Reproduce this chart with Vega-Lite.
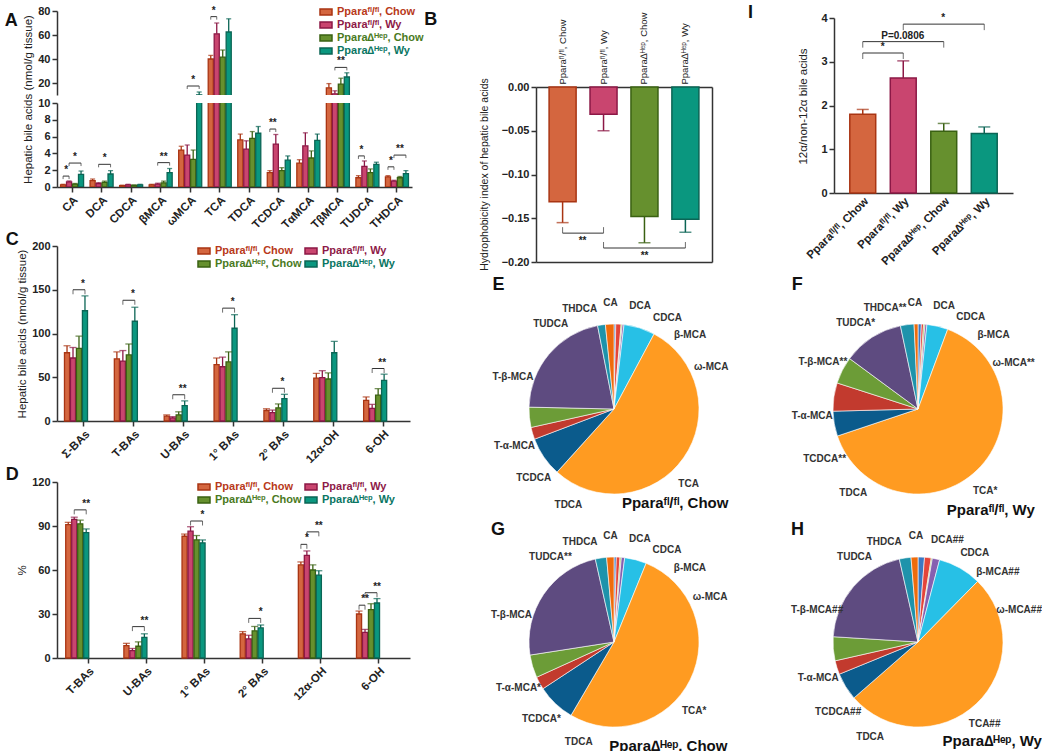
{
"$schema": "https://vega.github.io/schema/vega-lite/v6.json",
"background": "white",
"padding": {"left": 4, "top": 4, "right": 0, "bottom": 0},
"config": {
  "font": "Liberation Sans",
  "view": {"stroke": null},
  "axis": {"domainColor": "#333", "domainWidth": 1.5, "tickColor": "#333", "tickWidth": 1.5, "tickSize": 5, "labelColor": "#222", "labelFontWeight": "bold", "labelFontSize": 11, "titleFontWeight": "normal", "titleFontSize": 11.5, "titleColor": "#222", "grid": false, "labelPadding": 2},
  "title": {"fontSize": 18, "fontWeight": "bold", "anchor": "start", "color": "#111", "frame": "bounds"}
},
"datasets": {
  "A": [
    {"ba": "CA", "k": 1, "g": "a", "m": 0.25, "hi": 0.32, "pl": "CA"},
    {"ba": "CA", "k": 1, "g": "b", "m": 0.6, "hi": 0.72, "pl": "CA"},
    {"ba": "CA", "k": 1, "g": "c", "m": 0.35, "hi": 0.42, "pl": "CA"},
    {"ba": "CA", "k": 1, "g": "d", "m": 1.5, "hi": 1.9, "pl": "CA"},
    {"ba": "DCA", "k": 2, "g": "a", "m": 0.75, "hi": 0.95, "pl": "DCA"},
    {"ba": "DCA", "k": 2, "g": "b", "m": 0.4, "hi": 0.52, "pl": "DCA"},
    {"ba": "DCA", "k": 2, "g": "c", "m": 0.55, "hi": 0.7, "pl": "DCA"},
    {"ba": "DCA", "k": 2, "g": "d", "m": 1.55, "hi": 1.95, "pl": "DCA##"},
    {"ba": "CDCA", "k": 3, "g": "a", "m": 0.15, "hi": 0.22, "pl": "CDCA"},
    {"ba": "CDCA", "k": 3, "g": "b", "m": 0.25, "hi": 0.32, "pl": "CDCA"},
    {"ba": "CDCA", "k": 3, "g": "c", "m": 0.2, "hi": 0.25, "pl": "CDCA"},
    {"ba": "CDCA", "k": 3, "g": "d", "m": 0.25, "hi": 0.32, "pl": "CDCA"},
    {"ba": "βMCA", "k": 4, "g": "a", "m": 0.25, "hi": 0.32, "pl": "β-MCA"},
    {"ba": "βMCA", "k": 4, "g": "b", "m": 0.35, "hi": 0.45, "pl": "β-MCA"},
    {"ba": "βMCA", "k": 4, "g": "c", "m": 0.5, "hi": 0.7, "pl": "β-MCA"},
    {"ba": "βMCA", "k": 4, "g": "d", "m": 1.7, "hi": 2.2, "pl": "β-MCA##"},
    {"ba": "ωMCA", "k": 5, "g": "a", "m": 4.4, "hi": 4.85, "pl": "ω-MCA"},
    {"ba": "ωMCA", "k": 5, "g": "b", "m": 3.8, "hi": 5.0, "pl": "ω-MCA**"},
    {"ba": "ωMCA", "k": 5, "g": "c", "m": 3.3, "hi": 4.4, "pl": "ω-MCA"},
    {"ba": "ωMCA", "k": 5, "g": "d", "m": 10.1, "hi": 12.5, "pl": "ω-MCA##"},
    {"ba": "TCA", "k": 6, "g": "a", "m": 40, "hi": 43, "pl": "TCA"},
    {"ba": "TCA", "k": 6, "g": "b", "m": 61, "hi": 70, "pl": "TCA*"},
    {"ba": "TCA", "k": 6, "g": "c", "m": 41.5, "hi": 47.5, "pl": "TCA*"},
    {"ba": "TCA", "k": 6, "g": "d", "m": 62.5, "hi": 73.5, "pl": "TCA##"},
    {"ba": "TDCA", "k": 7, "g": "a", "m": 5.6, "hi": 6.3, "pl": "TDCA"},
    {"ba": "TDCA", "k": 7, "g": "b", "m": 4.5, "hi": 5.5, "pl": "TDCA"},
    {"ba": "TDCA", "k": 7, "g": "c", "m": 5.8, "hi": 6.6, "pl": "TDCA"},
    {"ba": "TDCA", "k": 7, "g": "d", "m": 6.4, "hi": 7.2, "pl": "TDCA"},
    {"ba": "TCDCA", "k": 8, "g": "a", "m": 1.7, "hi": 1.95, "pl": "TCDCA"},
    {"ba": "TCDCA", "k": 8, "g": "b", "m": 5.1, "hi": 6.25, "pl": "TCDCA**"},
    {"ba": "TCDCA", "k": 8, "g": "c", "m": 1.95, "hi": 2.3, "pl": "TCDCA*"},
    {"ba": "TCDCA", "k": 8, "g": "d", "m": 3.2, "hi": 3.7, "pl": "TCDCA##"},
    {"ba": "TαMCA", "k": 9, "g": "a", "m": 2.85, "hi": 3.25, "pl": "T-α-MCA"},
    {"ba": "TαMCA", "k": 9, "g": "b", "m": 4.9, "hi": 6.45, "pl": "T-α-MCA"},
    {"ba": "TαMCA", "k": 9, "g": "c", "m": 3.45, "hi": 4.3, "pl": "T-α-MCA*"},
    {"ba": "TαMCA", "k": 9, "g": "d", "m": 5.55, "hi": 6.3, "pl": "T-α-MCA"},
    {"ba": "TβMCA", "k": 10, "g": "a", "m": 16, "hi": 19.5, "pl": "T-β-MCA"},
    {"ba": "TβMCA", "k": 10, "g": "b", "m": 11, "hi": 13.5, "pl": "T-β-MCA**"},
    {"ba": "TβMCA", "k": 10, "g": "c", "m": 19, "hi": 24, "pl": "T-β-MCA"},
    {"ba": "TβMCA", "k": 10, "g": "d", "m": 25, "hi": 28.5, "pl": "T-β-MCA##"},
    {"ba": "TUDCA", "k": 11, "g": "a", "m": 1.1, "hi": 1.35, "pl": "TUDCA"},
    {"ba": "TUDCA", "k": 11, "g": "b", "m": 2.45, "hi": 3.1, "pl": "TUDCA*"},
    {"ba": "TUDCA", "k": 11, "g": "c", "m": 1.7, "hi": 2.15, "pl": "TUDCA**"},
    {"ba": "TUDCA", "k": 11, "g": "d", "m": 2.7, "hi": 2.95, "pl": "TUDCA"},
    {"ba": "THDCA", "k": 12, "g": "a", "m": 1.2, "hi": 1.35, "pl": "THDCA"},
    {"ba": "THDCA", "k": 12, "g": "b", "m": 0.7, "hi": 0.8, "pl": "THDCA**"},
    {"ba": "THDCA", "k": 12, "g": "c", "m": 1.1, "hi": 1.25, "pl": "THDCA"},
    {"ba": "THDCA", "k": 12, "g": "d", "m": 1.6, "hi": 1.95, "pl": "THDCA"}
  ],
  "Ab": [
    {"ba": "CA", "g1": "a", "g2": "b", "y": 1.3, "s": "*"},
    {"ba": "CA", "g1": "b", "g2": "d", "y": 2.85, "s": "*"},
    {"ba": "DCA", "g1": "b", "g2": "d", "y": 2.7, "s": "*"},
    {"ba": "βMCA", "g1": "b", "g2": "d", "y": 2.9, "s": "**"},
    {"ba": "ωMCA", "g1": "b", "g2": "d", "y": 17.5, "s": "*"},
    {"ba": "TCA", "g1": "a", "g2": "b", "y": 75.3, "s": "*"},
    {"ba": "TCDCA", "g1": "a", "g2": "b", "y": 6.9, "s": "**"},
    {"ba": "TβMCA", "g1": "b", "g2": "d", "y": 33, "s": "**"},
    {"ba": "TUDCA", "g1": "a", "g2": "b", "y": 3.7, "s": "*"},
    {"ba": "THDCA", "g1": "a", "g2": "b", "y": 2.4, "s": "*"},
    {"ba": "THDCA", "g1": "b", "g2": "d", "y": 3.8, "s": "**"}
  ],
  "C": [
    {"cat": "Σ-BAs", "g": "a", "m": 78, "hi": 86}, {"cat": "Σ-BAs", "g": "b", "m": 72, "hi": 84}, {"cat": "Σ-BAs", "g": "c", "m": 83, "hi": 97}, {"cat": "Σ-BAs", "g": "d", "m": 126, "hi": 143},
    {"cat": "T-BAs", "g": "a", "m": 71, "hi": 79}, {"cat": "T-BAs", "g": "b", "m": 68.5, "hi": 80.5}, {"cat": "T-BAs", "g": "c", "m": 75.5, "hi": 88}, {"cat": "T-BAs", "g": "d", "m": 114, "hi": 130},
    {"cat": "U-BAs", "g": "a", "m": 5.5, "hi": 7}, {"cat": "U-BAs", "g": "b", "m": 3.5, "hi": 5}, {"cat": "U-BAs", "g": "c", "m": 7, "hi": 10.5}, {"cat": "U-BAs", "g": "d", "m": 17.5, "hi": 23},
    {"cat": "1° BAs", "g": "a", "m": 64.5, "hi": 72}, {"cat": "1° BAs", "g": "b", "m": 62, "hi": 73}, {"cat": "1° BAs", "g": "c", "m": 67.5, "hi": 79}, {"cat": "1° BAs", "g": "d", "m": 106, "hi": 121.5},
    {"cat": "2° BAs", "g": "a", "m": 12, "hi": 14}, {"cat": "2° BAs", "g": "b", "m": 9.5, "hi": 12.5}, {"cat": "2° BAs", "g": "c", "m": 15, "hi": 19.5}, {"cat": "2° BAs", "g": "d", "m": 25.5, "hi": 30.5},
    {"cat": "12α-OH", "g": "a", "m": 49, "hi": 54.5}, {"cat": "12α-OH", "g": "b", "m": 49.5, "hi": 57.5}, {"cat": "12α-OH", "g": "c", "m": 48, "hi": 55}, {"cat": "12α-OH", "g": "d", "m": 78, "hi": 91},
    {"cat": "6-OH", "g": "a", "m": 23.5, "hi": 27.5}, {"cat": "6-OH", "g": "b", "m": 14.5, "hi": 19}, {"cat": "6-OH", "g": "c", "m": 29.5, "hi": 37}, {"cat": "6-OH", "g": "d", "m": 46.5, "hi": 53.5}
  ],
  "Cb": [
    {"cat": "Σ-BAs", "g1": "b", "g2": "d", "y": 150, "s": "*"},
    {"cat": "T-BAs", "g1": "b", "g2": "d", "y": 138, "s": "*"},
    {"cat": "U-BAs", "g1": "b", "g2": "d", "y": 30, "s": "**"},
    {"cat": "1° BAs", "g1": "b", "g2": "d", "y": 129, "s": "*"},
    {"cat": "2° BAs", "g1": "b", "g2": "d", "y": 37.4, "s": "*"},
    {"cat": "6-OH", "g1": "b", "g2": "d", "y": 60, "s": "**"}
  ],
  "D": [
    {"cat": "T-BAs", "g": "a", "m": 91, "hi": 92.5}, {"cat": "T-BAs", "g": "b", "m": 94.5, "hi": 96}, {"cat": "T-BAs", "g": "c", "m": 91.5, "hi": 94}, {"cat": "T-BAs", "g": "d", "m": 85.5, "hi": 88},
    {"cat": "U-BAs", "g": "a", "m": 8.5, "hi": 10}, {"cat": "U-BAs", "g": "b", "m": 5, "hi": 6.5}, {"cat": "U-BAs", "g": "c", "m": 8, "hi": 11}, {"cat": "U-BAs", "g": "d", "m": 14, "hi": 16.5},
    {"cat": "1° BAs", "g": "a", "m": 83, "hi": 84.5}, {"cat": "1° BAs", "g": "b", "m": 86.5, "hi": 89.5}, {"cat": "1° BAs", "g": "c", "m": 80.5, "hi": 83.5}, {"cat": "1° BAs", "g": "d", "m": 78.5, "hi": 80.5},
    {"cat": "2° BAs", "g": "a", "m": 16.5, "hi": 18}, {"cat": "2° BAs", "g": "b", "m": 13, "hi": 15.5}, {"cat": "2° BAs", "g": "c", "m": 18.5, "hi": 21.5}, {"cat": "2° BAs", "g": "d", "m": 20.5, "hi": 22.5},
    {"cat": "12α-OH", "g": "a", "m": 63.5, "hi": 65.5}, {"cat": "12α-OH", "g": "b", "m": 70, "hi": 73}, {"cat": "12α-OH", "g": "c", "m": 60, "hi": 63.5}, {"cat": "12α-OH", "g": "d", "m": 56.5, "hi": 59.5},
    {"cat": "6-OH", "g": "a", "m": 30, "hi": 32}, {"cat": "6-OH", "g": "b", "m": 17.5, "hi": 19.5}, {"cat": "6-OH", "g": "c", "m": 33, "hi": 37}, {"cat": "6-OH", "g": "d", "m": 37.5, "hi": 40.5}
  ],
  "Db": [
    {"cat": "T-BAs", "g1": "b", "g2": "d", "y": 101, "s": "**"},
    {"cat": "U-BAs", "g1": "b", "g2": "d", "y": 21.4, "s": "**"},
    {"cat": "1° BAs", "g1": "b", "g2": "d", "y": 93.4, "s": "*"},
    {"cat": "2° BAs", "g1": "b", "g2": "d", "y": 27, "s": "*"},
    {"cat": "12α-OH", "g1": "a", "g2": "b", "y": 77.5, "s": "*"},
    {"cat": "12α-OH", "g1": "b", "g2": "d", "y": 86, "s": "**"},
    {"cat": "6-OH", "g1": "a", "g2": "b", "y": 36, "s": "**"},
    {"cat": "6-OH", "g1": "b", "g2": "d", "y": 44.5, "s": "**"}
  ],
  "B": [
    {"g": "a", "m": -0.131, "lo": -0.155},
    {"g": "b", "m": -0.031, "lo": -0.05},
    {"g": "c", "m": -0.148, "lo": -0.178},
    {"g": "d", "m": -0.151, "lo": -0.166}
  ],
  "Bb": [
    {"g1": "a", "g2": "b", "y": -0.167, "s": "**"},
    {"g1": "b", "g2": "d", "y": -0.184, "s": "**"}
  ],
  "I": [
    {"g": "a", "m": 1.8, "hi": 1.91},
    {"g": "b", "m": 2.63, "hi": 3.02},
    {"g": "c", "m": 1.41, "hi": 1.59},
    {"g": "d", "m": 1.36, "hi": 1.51}
  ],
  "Ib": [
    {"g1": "a", "g2": "b", "y": 3.2, "s": "*"},
    {"g1": "a", "g2": "c", "y": 3.46, "s": "P=0.0806"},
    {"g1": "b", "g2": "d", "y": 3.86, "s": "*"}
  ]
},
"resolve": {"scale": {"x": "independent", "y": "independent", "fill": "independent", "stroke": "independent", "color": "independent"}, "legend": {"fill": "independent", "stroke": "independent", "color": "independent"}},
"spacing": 0,
"hconcat": [
  {
    "spacing": 0,
    "resolve": {"scale": {"x": "independent", "y": "independent", "fill": "independent", "stroke": "independent", "color": "independent"}, "legend": {"fill": "independent", "stroke": "independent", "color": "independent"}},
    "vconcat": [
      {
        "title": {"text": "A", "dy": 29, "dx": -18},
        "bounds": "flush",
        "spacing": 8,
        "resolve": {"scale": {"x": "independent", "y": "independent", "fill": "independent", "stroke": "independent", "color": "independent"}, "legend": {"fill": "independent", "stroke": "independent", "color": "independent"}},
        "vconcat": [
          {
            "width": 355, "height": 84,
            "encoding": {
              "x": {"field": "ba", "type": "nominal", "sort": ["CA","DCA","CDCA","βMCA","ωMCA","TCA","TDCA","TCDCA","TαMCA","TβMCA","TUDCA","THDCA"], "scale": {"paddingInner": 0.22, "paddingOuter": 0.12}, "axis": null},
              "xOffset": {"field": "g", "type": "nominal", "scale": {"paddingInner": 0.15}},
              "y": {"field": "m", "type": "quantitative", "scale": {"domain": [10, 80], "nice": false, "zero": false}, "axis": {"values": [20, 40, 60, 80], "title": null}}
            },
            "layer": [
              {"data": {"name": "A"}, "mark": {"type": "bar", "clip": true, "strokeWidth": 1.3},
               "encoding": {"stroke": {"field": "g", "type": "nominal", "scale": {"domain": ["a","b","c","d"], "range": ["#A93513","#8C1846","#3A6112","#0B6555"]}, "legend": null},
                 "fill": {"field": "g", "type": "nominal", "scale": {"domain": ["a","b","c","d"], "range": ["#D4663F","#C9456F","#66902E","#0A977F"]},
                 "legend": {"orient": "none", "legendX": 262, "legendY": -6, "title": null, "symbolType": "M-1,-0.5H1V0.5H-1Z", "symbolSize": 144, "symbolStrokeWidth": 1.5, "labelFontSize": 11, "labelFontWeight": "bold", "rowPadding": -2,
                   "labelExpr": "{'a':'Pparaᶠˡ/ᶠˡ, Chow','b':'Pparaᶠˡ/ᶠˡ, Wy','c':'Ppara∆ᴴᵉᵖ, Chow','d':'Ppara∆ᴴᵉᵖ, Wy'}[datum.value]",
                   "encode": {"labels": {"update": {"fill": {"signal": "{'a':'#B8391A','b':'#8E1A48','c':'#4A7A1E','d':'#0B7663'}[datum.value]"}}}, "symbols": {"update": {"stroke": {"signal": "{'a':'#A93513','b':'#8C1846','c':'#3A6112','d':'#0B6555'}[datum.value]"}}}}}}}},
              {"data": {"name": "A"}, "mark": {"type": "rule", "clip": true, "strokeWidth": 1.3}, "encoding": {"y2": {"field": "hi"}, "stroke": {"field": "g", "type": "nominal", "scale": {"domain": ["a","b","c","d"], "range": ["#A93513","#8C1846","#3A6112","#0B6555"]}, "legend": null}}},
              {"data": {"name": "A"}, "mark": {"type": "tick", "clip": true, "thickness": 1.3, "size": 5},
               "encoding": {"y": {"field": "hi", "type": "quantitative"}, "color": {"field": "g", "type": "nominal", "scale": {"domain": ["a","b","c","d"], "range": ["#A93513","#8C1846","#3A6112","#0B6555"]}, "legend": null}}},
              {"data": {"name": "Ab"}, "transform": [{"filter": "datum.y >= 10"}, {"fold": ["g1", "g2"], "as": ["end", "gg"]}], "mark": {"type": "line", "strokeWidth": 1, "color": "#333"},
               "encoding": {"xOffset": {"field": "gg", "type": "nominal"}, "y": {"field": "y", "type": "quantitative"}, "detail": [{"field": "ba"}, {"field": "g1"}, {"field": "g2"}]}},
              {"data": {"name": "Ab"}, "transform": [{"filter": "datum.y >= 10"}, {"fold": ["g1", "g2"], "as": ["end", "gg"]}], "mark": {"type": "point", "shape": "M0,0L0,1", "size": 36, "filled": false, "strokeWidth": 1, "color": "#333"},
               "encoding": {"xOffset": {"field": "gg", "type": "nominal"}, "y": {"field": "y", "type": "quantitative"}}},
              {"data": {"name": "Ab"}, "transform": [{"filter": "datum.y >= 10"}, {"filter": "!((datum.g1=='a'&&datum.g2=='c')||(datum.g1=='b'&&datum.g2=='d'))"}], "mark": {"type": "text", "dx": 3, "dy": -1, "baseline": "bottom", "fontSize": 10, "fontWeight": "bold", "color": "#222"},
               "encoding": {"xOffset": {"field": "g1", "type": "nominal"}, "y": {"field": "y", "type": "quantitative"}, "text": {"field": "s"}}},
              {"data": {"name": "Ab"}, "transform": [{"filter": "datum.y >= 10"}, {"filter": "(datum.g1=='a'&&datum.g2=='c')||(datum.g1=='b'&&datum.g2=='d')"}], "mark": {"type": "text", "dx": 6, "dy": -1, "baseline": "bottom", "fontSize": 10, "fontWeight": "bold", "color": "#222"},
               "encoding": {"xOffset": {"field": "g1", "type": "nominal"}, "y": {"field": "y", "type": "quantitative"}, "text": {"field": "s"}}}
            ]
          },
          {
            "width": 355, "height": 84,
            "encoding": {
              "x": {"field": "ba", "type": "nominal", "sort": ["CA","DCA","CDCA","βMCA","ωMCA","TCA","TDCA","TCDCA","TαMCA","TβMCA","TUDCA","THDCA"], "scale": {"paddingInner": 0.22, "paddingOuter": 0.12}, "axis": {"title": null, "labelAngle": -45, "labelFontSize": 11.5}},
              "xOffset": {"field": "g", "type": "nominal", "scale": {"paddingInner": 0.15}},
              "y": {"field": "m", "type": "quantitative", "scale": {"domain": [0, 10], "nice": false}, "axis": {"values": [0, 2, 4, 6, 8, 10], "title": "Hepatic bile acids (nmol/g tissue)", "titleY": -4}}
            },
            "layer": [
              {"data": {"name": "A"}, "mark": {"type": "bar", "clip": true, "strokeWidth": 1.3},
               "encoding": {"stroke": {"field": "g", "type": "nominal", "scale": {"domain": ["a","b","c","d"], "range": ["#A93513","#8C1846","#3A6112","#0B6555"]}, "legend": null}, "fill": {"field": "g", "type": "nominal", "scale": {"domain": ["a","b","c","d"], "range": ["#D4663F","#C9456F","#66902E","#0A977F"]}, "legend": null}}},
              {"data": {"name": "A"}, "mark": {"type": "rule", "clip": true, "strokeWidth": 1.3}, "encoding": {"y2": {"field": "hi"}, "stroke": {"field": "g", "type": "nominal", "scale": {"domain": ["a","b","c","d"], "range": ["#A93513","#8C1846","#3A6112","#0B6555"]}, "legend": null}}},
              {"data": {"name": "A"}, "mark": {"type": "tick", "clip": true, "thickness": 1.3, "size": 5},
               "encoding": {"y": {"field": "hi", "type": "quantitative"}, "color": {"field": "g", "type": "nominal", "scale": {"domain": ["a","b","c","d"], "range": ["#A93513","#8C1846","#3A6112","#0B6555"]}, "legend": null}}},
              {"data": {"name": "Ab"}, "transform": [{"filter": "datum.y < 10"}, {"fold": ["g1", "g2"], "as": ["end", "gg"]}], "mark": {"type": "line", "strokeWidth": 1, "color": "#333"},
               "encoding": {"xOffset": {"field": "gg", "type": "nominal"}, "y": {"field": "y", "type": "quantitative"}, "detail": [{"field": "ba"}, {"field": "g1"}, {"field": "g2"}]}},
              {"data": {"name": "Ab"}, "transform": [{"filter": "datum.y < 10"}, {"fold": ["g1", "g2"], "as": ["end", "gg"]}], "mark": {"type": "point", "shape": "M0,0L0,1", "size": 36, "filled": false, "strokeWidth": 1, "color": "#333"},
               "encoding": {"xOffset": {"field": "gg", "type": "nominal"}, "y": {"field": "y", "type": "quantitative"}}},
              {"data": {"name": "Ab"}, "transform": [{"filter": "datum.y < 10"}, {"filter": "!((datum.g1=='a'&&datum.g2=='c')||(datum.g1=='b'&&datum.g2=='d'))"}], "mark": {"type": "text", "dx": 3, "dy": -1, "baseline": "bottom", "fontSize": 10, "fontWeight": "bold", "color": "#222"},
               "encoding": {"xOffset": {"field": "g1", "type": "nominal"}, "y": {"field": "y", "type": "quantitative"}, "text": {"field": "s"}}},
              {"data": {"name": "Ab"}, "transform": [{"filter": "datum.y < 10"}, {"filter": "(datum.g1=='a'&&datum.g2=='c')||(datum.g1=='b'&&datum.g2=='d')"}], "mark": {"type": "text", "dx": 6, "dy": -1, "baseline": "bottom", "fontSize": 10, "fontWeight": "bold", "color": "#222"},
               "encoding": {"xOffset": {"field": "g1", "type": "nominal"}, "y": {"field": "y", "type": "quantitative"}, "text": {"field": "s"}}}
            ]
          }
        ]
      },
      {
        "title": {"text": "C", "dx": -11, "dy": 13},
        "width": 353, "height": 175,
        "encoding": {
          "x": {"field": "cat", "type": "nominal", "sort": ["Σ-BAs","T-BAs","U-BAs","1° BAs","2° BAs","12α-OH","6-OH"], "scale": {"paddingInner": 0.22, "paddingOuter": 0.15}, "axis": {"title": null, "labelAngle": -45, "labelFontSize": 11.5}},
          "xOffset": {"field": "g", "type": "nominal", "scale": {"paddingInner": 0.2}},
          "y": {"field": "m", "type": "quantitative", "scale": {"domain": [0, 200], "nice": false}, "axis": {"values": [0, 50, 100, 150, 200], "title": "Hepatic bile acids (nmol/g tissue)"}}
        },
        "layer": [
          {"data": {"name": "C"}, "mark": {"type": "bar", "strokeWidth": 1.3},
           "encoding": {"stroke": {"field": "g", "type": "nominal", "scale": {"domain": ["a","b","c","d"], "range": ["#A93513","#8C1846","#3A6112","#0B6555"]}, "legend": null},
             "fill": {"field": "g", "type": "nominal", "scale": {"domain": ["a","b","c","d"], "range": ["#D4663F","#C9456F","#66902E","#0A977F"]},
             "legend": {"orient": "none", "legendX": 140, "legendY": -2, "columns": 2, "columnPadding": 0, "values": ["a","c","b","d"], "title": null, "symbolType": "M-1,-0.5H1V0.5H-1Z", "symbolSize": 144, "symbolStrokeWidth": 1.5, "labelFontSize": 11, "labelFontWeight": "bold", "rowPadding": -1,
               "labelExpr": "{'a':'Pparaᶠˡ/ᶠˡ, Chow','b':'Pparaᶠˡ/ᶠˡ, Wy','c':'Ppara∆ᴴᵉᵖ, Chow','d':'Ppara∆ᴴᵉᵖ, Wy'}[datum.value]",
               "encode": {"labels": {"update": {"fill": {"signal": "{'a':'#B8391A','b':'#8E1A48','c':'#4A7A1E','d':'#0B7663'}[datum.value]"}}}, "symbols": {"update": {"stroke": {"signal": "{'a':'#A93513','b':'#8C1846','c':'#3A6112','d':'#0B6555'}[datum.value]"}}}}}}}},
          {"data": {"name": "C"}, "mark": {"type": "rule", "strokeWidth": 1.3}, "encoding": {"y2": {"field": "hi"}, "stroke": {"field": "g", "type": "nominal", "scale": {"domain": ["a","b","c","d"], "range": ["#A93513","#8C1846","#3A6112","#0B6555"]}, "legend": null}}},
          {"data": {"name": "C"}, "mark": {"type": "tick", "thickness": 1.3, "size": 7},
           "encoding": {"y": {"field": "hi", "type": "quantitative"}, "color": {"field": "g", "type": "nominal", "scale": {"domain": ["a","b","c","d"], "range": ["#A93513","#8C1846","#3A6112","#0B6555"]}, "legend": null}}},
          {"data": {"name": "Cb"}, "transform": [{"fold": ["g1", "g2"], "as": ["end", "gg"]}], "mark": {"type": "line", "strokeWidth": 1, "color": "#333"},
           "encoding": {"xOffset": {"field": "gg", "type": "nominal"}, "y": {"field": "y", "type": "quantitative"}, "detail": [{"field": "cat"}, {"field": "g1"}, {"field": "g2"}]}},
          {"data": {"name": "Cb"}, "transform": [{"fold": ["g1", "g2"], "as": ["end", "gg"]}], "mark": {"type": "point", "shape": "M0,0L0,1", "size": 81, "filled": false, "strokeWidth": 1, "color": "#333"},
           "encoding": {"xOffset": {"field": "gg", "type": "nominal"}, "y": {"field": "y", "type": "quantitative"}}},
          {"data": {"name": "Cb"}, "transform": [{"filter": "!((datum.g1=='a'&&datum.g2=='c')||(datum.g1=='b'&&datum.g2=='d'))"}], "mark": {"type": "text", "dx": 5, "dy": -1, "baseline": "bottom", "fontSize": 10, "fontWeight": "bold", "color": "#222"},
           "encoding": {"xOffset": {"field": "g1", "type": "nominal"}, "y": {"field": "y", "type": "quantitative"}, "text": {"field": "s"}}},
          {"data": {"name": "Cb"}, "transform": [{"filter": "(datum.g1=='a'&&datum.g2=='c')||(datum.g1=='b'&&datum.g2=='d')"}], "mark": {"type": "text", "dx": 10, "dy": -1, "baseline": "bottom", "fontSize": 10, "fontWeight": "bold", "color": "#222"},
           "encoding": {"xOffset": {"field": "g1", "type": "nominal"}, "y": {"field": "y", "type": "quantitative"}, "text": {"field": "s"}}}
        ]
      },
      {
        "title": {"text": "D", "dx": -11, "dy": 12},
        "width": 353, "height": 176,
        "encoding": {
          "x": {"field": "cat", "type": "nominal", "sort": ["T-BAs","U-BAs","1° BAs","2° BAs","12α-OH","6-OH"], "scale": {"paddingInner": 0.23, "paddingOuter": 0.15}, "axis": {"title": null, "labelAngle": -45, "labelFontSize": 11.5}},
          "xOffset": {"field": "g", "type": "nominal", "scale": {"paddingInner": 0.2}},
          "y": {"field": "m", "type": "quantitative", "scale": {"domain": [0, 120], "nice": false}, "axis": {"values": [0, 30, 60, 90, 120], "title": "%"}}
        },
        "layer": [
          {"data": {"name": "D"}, "mark": {"type": "bar", "strokeWidth": 1.3},
           "encoding": {"stroke": {"field": "g", "type": "nominal", "scale": {"domain": ["a","b","c","d"], "range": ["#A93513","#8C1846","#3A6112","#0B6555"]}, "legend": null},
             "fill": {"field": "g", "type": "nominal", "scale": {"domain": ["a","b","c","d"], "range": ["#D4663F","#C9456F","#66902E","#0A977F"]},
             "legend": {"orient": "none", "legendX": 140, "legendY": -2, "columns": 2, "columnPadding": 0, "values": ["a","c","b","d"], "title": null, "symbolType": "M-1,-0.5H1V0.5H-1Z", "symbolSize": 144, "symbolStrokeWidth": 1.5, "labelFontSize": 11, "labelFontWeight": "bold", "rowPadding": -1,
               "labelExpr": "{'a':'Pparaᶠˡ/ᶠˡ, Chow','b':'Pparaᶠˡ/ᶠˡ, Wy','c':'Ppara∆ᴴᵉᵖ, Chow','d':'Ppara∆ᴴᵉᵖ, Wy'}[datum.value]",
               "encode": {"labels": {"update": {"fill": {"signal": "{'a':'#B8391A','b':'#8E1A48','c':'#4A7A1E','d':'#0B7663'}[datum.value]"}}}, "symbols": {"update": {"stroke": {"signal": "{'a':'#A93513','b':'#8C1846','c':'#3A6112','d':'#0B6555'}[datum.value]"}}}}}}}},
          {"data": {"name": "D"}, "mark": {"type": "rule", "strokeWidth": 1.3}, "encoding": {"y2": {"field": "hi"}, "stroke": {"field": "g", "type": "nominal", "scale": {"domain": ["a","b","c","d"], "range": ["#A93513","#8C1846","#3A6112","#0B6555"]}, "legend": null}}},
          {"data": {"name": "D"}, "mark": {"type": "tick", "thickness": 1.3, "size": 7},
           "encoding": {"y": {"field": "hi", "type": "quantitative"}, "color": {"field": "g", "type": "nominal", "scale": {"domain": ["a","b","c","d"], "range": ["#A93513","#8C1846","#3A6112","#0B6555"]}, "legend": null}}},
          {"data": {"name": "Db"}, "transform": [{"fold": ["g1", "g2"], "as": ["end", "gg"]}], "mark": {"type": "line", "strokeWidth": 1, "color": "#333"},
           "encoding": {"xOffset": {"field": "gg", "type": "nominal"}, "y": {"field": "y", "type": "quantitative"}, "detail": [{"field": "cat"}, {"field": "g1"}, {"field": "g2"}]}},
          {"data": {"name": "Db"}, "transform": [{"fold": ["g1", "g2"], "as": ["end", "gg"]}], "mark": {"type": "point", "shape": "M0,0L0,1", "size": 81, "filled": false, "strokeWidth": 1, "color": "#333"},
           "encoding": {"xOffset": {"field": "gg", "type": "nominal"}, "y": {"field": "y", "type": "quantitative"}}},
          {"data": {"name": "Db"}, "transform": [{"filter": "!((datum.g1=='a'&&datum.g2=='c')||(datum.g1=='b'&&datum.g2=='d'))"}], "mark": {"type": "text", "dx": 6, "dy": -1, "baseline": "bottom", "fontSize": 10, "fontWeight": "bold", "color": "#222"},
           "encoding": {"xOffset": {"field": "g1", "type": "nominal"}, "y": {"field": "y", "type": "quantitative"}, "text": {"field": "s"}}},
          {"data": {"name": "Db"}, "transform": [{"filter": "(datum.g1=='a'&&datum.g2=='c')||(datum.g1=='b'&&datum.g2=='d')"}], "mark": {"type": "text", "dx": 12, "dy": -1, "baseline": "bottom", "fontSize": 10, "fontWeight": "bold", "color": "#222"},
           "encoding": {"xOffset": {"field": "g1", "type": "nominal"}, "y": {"field": "y", "type": "quantitative"}, "text": {"field": "s"}}}
        ]
      }
    ]
  },
  {
    "spacing": 5,
    "resolve": {"scale": {"x": "independent", "y": "independent", "fill": "independent", "stroke": "independent", "color": "independent", "theta": "independent"}, "legend": {"fill": "independent", "stroke": "independent", "color": "independent"}},
    "vconcat": [
      {
        "spacing": 35,
        "resolve": {"scale": {"x": "independent", "y": "independent", "fill": "independent", "stroke": "independent", "color": "independent"}, "legend": {"fill": "independent", "stroke": "independent", "color": "independent"}},
        "hconcat": [
          {
            "title": {"text": "B", "dx": -55, "dy": 22},
            "width": 176, "height": 251,
            "encoding": {
              "x": {"field": "g", "type": "nominal", "sort": ["a","b","c","d"], "scale": {"paddingInner": 0.34, "paddingOuter": 0.32}, "axis": {"orient": "top", "offset": -76, "labelAngle": -90, "title": null, "ticks": false, "labelFontWeight": "normal", "labelFontSize": 9.5, "labelPadding": 3, "labelExpr": "{'a':'Pparaᶠˡ/ᶠˡ, Chow','b':'Pparaᶠˡ/ᶠˡ, Wy','c':'Ppara∆ᴴᵉᵖ, Chow','d':'Ppara∆ᴴᵉᵖ, Wy'}[datum.value]"}},
              "y": {"field": "m", "type": "quantitative", "scale": {"domain": [-0.2, 0], "nice": false, "range": [251, 76]}, "axis": {"values": [0, -0.05, -0.1, -0.15, -0.2], "format": ".2f", "title": "Hydrophobicity index of hepatic bile acids", "titleY": 163, "titleFontSize": 10.5, "titlePadding": 12}}
            },
            "layer": [
              {"data": {"name": "B"}, "mark": {"type": "bar", "strokeWidth": 1.5},
               "encoding": {"stroke": {"field": "g", "type": "nominal", "scale": {"domain": ["a","b","c","d"], "range": ["#A93513","#8C1846","#3A6112","#0B6555"]}, "legend": null}, "fill": {"field": "g", "type": "nominal", "scale": {"domain": ["a","b","c","d"], "range": ["#D4663F","#C9456F","#66902E","#0A977F"]}, "legend": null}}},
              {"data": {"name": "B"}, "mark": {"type": "rule", "strokeWidth": 1.5},
               "encoding": {"y2": {"field": "lo"}, "stroke": {"field": "g", "type": "nominal", "scale": {"domain": ["a","b","c","d"], "range": ["#A93513","#8C1846","#3A6112","#0B6555"]}, "legend": null},
                 "x": {"field": "g", "type": "nominal", "sort": ["a","b","c","d"], "axis": {"orient": "bottom", "labels": false, "ticks": false, "title": null}},
                 "y": {"field": "m", "type": "quantitative", "axis": {"orient": "right", "labels": false, "ticks": false, "title": null}}}},
              {"data": {"name": "B"}, "mark": {"type": "tick", "thickness": 1.5, "size": 12},
               "encoding": {"y": {"field": "lo", "type": "quantitative", "axis": null}, "x": {"field": "g", "type": "nominal", "axis": null}, "color": {"field": "g", "type": "nominal", "scale": {"domain": ["a","b","c","d"], "range": ["#A93513","#8C1846","#3A6112","#0B6555"]}, "legend": null}}},
              {"data": {"name": "Bb"}, "transform": [{"fold": ["g1", "g2"], "as": ["end", "gg"]}], "mark": {"type": "line", "strokeWidth": 1, "color": "#333"},
               "encoding": {"x": {"field": "gg", "type": "nominal", "axis": null}, "y": {"field": "y", "type": "quantitative", "axis": null}, "detail": [{"field": "g1"}, {"field": "g2"}]}},
              {"data": {"name": "Bb"}, "transform": [{"fold": ["g1", "g2"], "as": ["end", "gg"]}], "mark": {"type": "point", "shape": "M0,0L0,-1", "size": 144, "filled": false, "strokeWidth": 1, "color": "#333"},
               "encoding": {"x": {"field": "gg", "type": "nominal", "axis": null}, "y": {"field": "y", "type": "quantitative", "axis": null}}},
              {"data": {"name": "Bb"}, "mark": {"type": "text", "dx": 20, "dy": 3, "baseline": "top", "fontSize": 10, "fontWeight": "bold", "color": "#222"},
               "transform": [{"filter": "datum.g1=='a'"}],
               "encoding": {"x": {"field": "g1", "type": "nominal", "axis": null}, "y": {"field": "y", "type": "quantitative", "axis": null}, "text": {"field": "s"}}},
              {"data": {"name": "Bb"}, "mark": {"type": "text", "dx": 41, "dy": 3, "baseline": "top", "fontSize": 10, "fontWeight": "bold", "color": "#222"},
               "transform": [{"filter": "datum.g1=='b'"}],
               "encoding": {"x": {"field": "g1", "type": "nominal", "axis": null}, "y": {"field": "y", "type": "quantitative", "axis": null}, "text": {"field": "s"}}}
            ],
            "resolve": {"axis": {"x": "independent", "y": "independent"}}
          },
          {
            "title": {"text": "I", "dx": -50, "dy": 15},
            "width": 179, "height": 182,
            "encoding": {
              "x": {"field": "g", "type": "nominal", "sort": ["a","b","c","d"], "scale": {"paddingInner": 0.36, "paddingOuter": 0.39}, "axis": {"title": null, "labelAngle": -45, "ticks": false, "labelFontSize": 11.5, "labelExpr": "{'a':'Pparaᶠˡ/ᶠˡ, Chow','b':'Pparaᶠˡ/ᶠˡ, Wy','c':'Ppara∆ᴴᵉᵖ, Chow','d':'Ppara∆ᴴᵉᵖ, Wy'}[datum.value]"}},
              "y": {"field": "m", "type": "quantitative", "scale": {"domain": [0, 4], "nice": false, "range": [182, 7]}, "axis": {"values": [0, 1, 2, 3, 4], "title": "12α/non-12α bile acids", "titleY": 95, "titlePadding": 12}}
            },
            "layer": [
              {"data": {"name": "I"}, "mark": {"type": "bar", "strokeWidth": 1.5},
               "encoding": {"stroke": {"field": "g", "type": "nominal", "scale": {"domain": ["a","b","c","d"], "range": ["#A93513","#8C1846","#3A6112","#0B6555"]}, "legend": null}, "fill": {"field": "g", "type": "nominal", "scale": {"domain": ["a","b","c","d"], "range": ["#D4663F","#C9456F","#66902E","#0A977F"]}, "legend": null}}},
              {"data": {"name": "I"}, "mark": {"type": "rule", "strokeWidth": 1.5}, "encoding": {"y2": {"field": "hi"}, "stroke": {"field": "g", "type": "nominal", "scale": {"domain": ["a","b","c","d"], "range": ["#A93513","#8C1846","#3A6112","#0B6555"]}, "legend": null}}},
              {"data": {"name": "I"}, "mark": {"type": "tick", "thickness": 1.5, "size": 12},
               "encoding": {"y": {"field": "hi", "type": "quantitative"}, "color": {"field": "g", "type": "nominal", "scale": {"domain": ["a","b","c","d"], "range": ["#A93513","#8C1846","#3A6112","#0B6555"]}, "legend": null}}},
              {"data": {"name": "Ib"}, "transform": [{"fold": ["g1", "g2"], "as": ["end", "gg"]}], "mark": {"type": "line", "strokeWidth": 1, "color": "#333"},
               "encoding": {"x": {"field": "gg", "type": "nominal"}, "y": {"field": "y", "type": "quantitative"}, "detail": [{"field": "g1"}, {"field": "g2"}]}},
              {"data": {"name": "Ib"}, "transform": [{"fold": ["g1", "g2"], "as": ["end", "gg"]}], "mark": {"type": "point", "shape": "M0,0L0,1", "size": 144, "filled": false, "strokeWidth": 1, "color": "#333"},
               "encoding": {"x": {"field": "gg", "type": "nominal"}, "y": {"field": "y", "type": "quantitative"}}},
              {"data": {"name": "Ib"}, "transform": [{"filter": "datum.g1=='a'&&datum.g2=='b'"}], "mark": {"type": "text", "dx": 20, "dy": -1, "baseline": "bottom", "fontSize": 10, "fontWeight": "bold", "color": "#222"},
               "encoding": {"x": {"field": "g1", "type": "nominal"}, "y": {"field": "y", "type": "quantitative"}, "text": {"field": "s"}}},
              {"data": {"name": "Ib"}, "transform": [{"filter": "datum.g2=='c'||datum.g2=='d'"}], "mark": {"type": "text", "dx": 40, "dy": -1, "baseline": "bottom", "fontSize": 10, "fontWeight": "bold", "color": "#222"},
               "encoding": {"x": {"field": "g1", "type": "nominal"}, "y": {"field": "y", "type": "quantitative"}, "text": {"field": "s"}}}
            ]
          }
        ]
      },
      {
        "spacing": 3,
        "vconcat": [
          {
            "spacing": 62,
            "resolve": {"scale": {"theta": "independent", "color": "independent"}},
            "hconcat": [
              {"title": {"text": "E"}, "vconcat": [
                {"width": 156, "height": 200,
                 "title": {"text": "Pparaᶠˡ/ᶠˡ, Chow", "orient": "bottom", "anchor": "end", "fontSize": 15, "offset": -14},
                 "data": {"name": "A"}, "transform": [{"filter": "datum.g == 'a'"}],
                 "layer": [
                   {"mark": {"type": "arc", "outerRadius": 85, "stroke": "white", "strokeWidth": 0.6},
                    "encoding": {"theta": {"field": "m", "type": "quantitative", "stack": true}, "order": {"field": "k", "type": "quantitative"}, "color": {"field": "ba", "type": "nominal", "scale": {"domain": ["CA","DCA","CDCA","βMCA","ωMCA","TCA","TDCA","TCDCA","TαMCA","TβMCA","TUDCA","THDCA"], "range": ["#3B78C2","#E4453A","#8DBE45","#8660B0","#27C0E6","#FF9B21","#0B5B8C","#C23A2E","#6C9C37","#5E4B80","#1E93AB","#EE6C0C"]}, "legend": null}}},
                   {"transform": [{"joinaggregate": [{"op": "mean", "field": "m", "as": "avg"}]}, {"fold": ["m", "avg"]}],
                    "mark": {"type": "text", "radius": 106, "fontSize": 10, "fontWeight": "bold", "color": "#333"},
                    "encoding": {"theta": {"aggregate": "sum", "field": "value", "type": "quantitative", "stack": true, "scale": {"range": [-0.17, 6.11]}}, "order": {"field": "k", "type": "quantitative"}, "text": {"field": "pl", "type": "nominal"}}}
                 ],
                 "resolve": {"scale": {"theta": "independent"}}}
              ]},
              {"title": {"text": "F"}, "vconcat": [
                {"width": 156, "height": 200,
                 "title": {"text": "Pparaᶠˡ/ᶠˡ, Wy", "orient": "bottom", "anchor": "end", "fontSize": 15, "offset": -6},
                 "data": {"name": "A"}, "transform": [{"filter": "datum.g == 'b'"}],
                 "layer": [
                   {"mark": {"type": "arc", "outerRadius": 85, "stroke": "white", "strokeWidth": 0.6},
                    "encoding": {"theta": {"field": "m", "type": "quantitative", "stack": true}, "order": {"field": "k", "type": "quantitative"}, "color": {"field": "ba", "type": "nominal", "scale": {"domain": ["CA","DCA","CDCA","βMCA","ωMCA","TCA","TDCA","TCDCA","TαMCA","TβMCA","TUDCA","THDCA"], "range": ["#3B78C2","#E4453A","#8DBE45","#8660B0","#27C0E6","#FF9B21","#0B5B8C","#C23A2E","#6C9C37","#5E4B80","#1E93AB","#EE6C0C"]}, "legend": null}}},
                   {"transform": [{"joinaggregate": [{"op": "mean", "field": "m", "as": "avg"}]}, {"fold": ["m", "avg"]}],
                    "mark": {"type": "text", "radius": 106, "fontSize": 10, "fontWeight": "bold", "color": "#333"},
                    "encoding": {"theta": {"aggregate": "sum", "field": "value", "type": "quantitative", "stack": true, "scale": {"range": [-0.17, 6.11]}}, "order": {"field": "k", "type": "quantitative"}, "text": {"field": "pl", "type": "nominal"}}}
                 ],
                 "resolve": {"scale": {"theta": "independent"}}}
              ]}
            ]
          },
          {
            "spacing": 62,
            "resolve": {"scale": {"theta": "independent", "color": "independent"}},
            "hconcat": [
              {"title": {"text": "G", "dy": 12}, "vconcat": [
                {"width": 156, "height": 200,
                 "title": {"text": "Ppara∆ᴴᵉᵖ, Chow", "orient": "bottom", "anchor": "end", "fontSize": 15, "offset": -8},
                 "data": {"name": "A"}, "transform": [{"filter": "datum.g == 'c'"}],
                 "layer": [
                   {"mark": {"type": "arc", "outerRadius": 85, "stroke": "white", "strokeWidth": 0.6},
                    "encoding": {"theta": {"field": "m", "type": "quantitative", "stack": true}, "order": {"field": "k", "type": "quantitative"}, "color": {"field": "ba", "type": "nominal", "scale": {"domain": ["CA","DCA","CDCA","βMCA","ωMCA","TCA","TDCA","TCDCA","TαMCA","TβMCA","TUDCA","THDCA"], "range": ["#3B78C2","#E4453A","#8DBE45","#8660B0","#27C0E6","#FF9B21","#0B5B8C","#C23A2E","#6C9C37","#5E4B80","#1E93AB","#EE6C0C"]}, "legend": null}}},
                   {"transform": [{"joinaggregate": [{"op": "mean", "field": "m", "as": "avg"}]}, {"fold": ["m", "avg"]}],
                    "mark": {"type": "text", "radius": 106, "fontSize": 10, "fontWeight": "bold", "color": "#333"},
                    "encoding": {"theta": {"aggregate": "sum", "field": "value", "type": "quantitative", "stack": true, "scale": {"range": [-0.17, 6.11]}}, "order": {"field": "k", "type": "quantitative"}, "text": {"field": "pl", "type": "nominal"}}}
                 ],
                 "resolve": {"scale": {"theta": "independent"}}}
              ]},
              {"title": {"text": "H", "dy": 12}, "vconcat": [
                {"width": 156, "height": 200,
                 "title": {"text": "Ppara∆ᴴᵉᵖ, Wy", "orient": "bottom", "anchor": "end", "fontSize": 15, "offset": -8},
                 "data": {"name": "A"}, "transform": [{"filter": "datum.g == 'd'"}],
                 "layer": [
                   {"mark": {"type": "arc", "outerRadius": 85, "stroke": "white", "strokeWidth": 0.6},
                    "encoding": {"theta": {"field": "m", "type": "quantitative", "stack": true}, "order": {"field": "k", "type": "quantitative"}, "color": {"field": "ba", "type": "nominal", "scale": {"domain": ["CA","DCA","CDCA","βMCA","ωMCA","TCA","TDCA","TCDCA","TαMCA","TβMCA","TUDCA","THDCA"], "range": ["#3B78C2","#E4453A","#8DBE45","#8660B0","#27C0E6","#FF9B21","#0B5B8C","#C23A2E","#6C9C37","#5E4B80","#1E93AB","#EE6C0C"]}, "legend": null}}},
                   {"transform": [{"joinaggregate": [{"op": "mean", "field": "m", "as": "avg"}]}, {"fold": ["m", "avg"]}],
                    "mark": {"type": "text", "radius": 106, "fontSize": 10, "fontWeight": "bold", "color": "#333"},
                    "encoding": {"theta": {"aggregate": "sum", "field": "value", "type": "quantitative", "stack": true, "scale": {"range": [-0.17, 6.11]}}, "order": {"field": "k", "type": "quantitative"}, "text": {"field": "pl", "type": "nominal"}}}
                 ],
                 "resolve": {"scale": {"theta": "independent"}}}
              ]}
            ]
          }
        ]
      }
    ]
  }
]
}
